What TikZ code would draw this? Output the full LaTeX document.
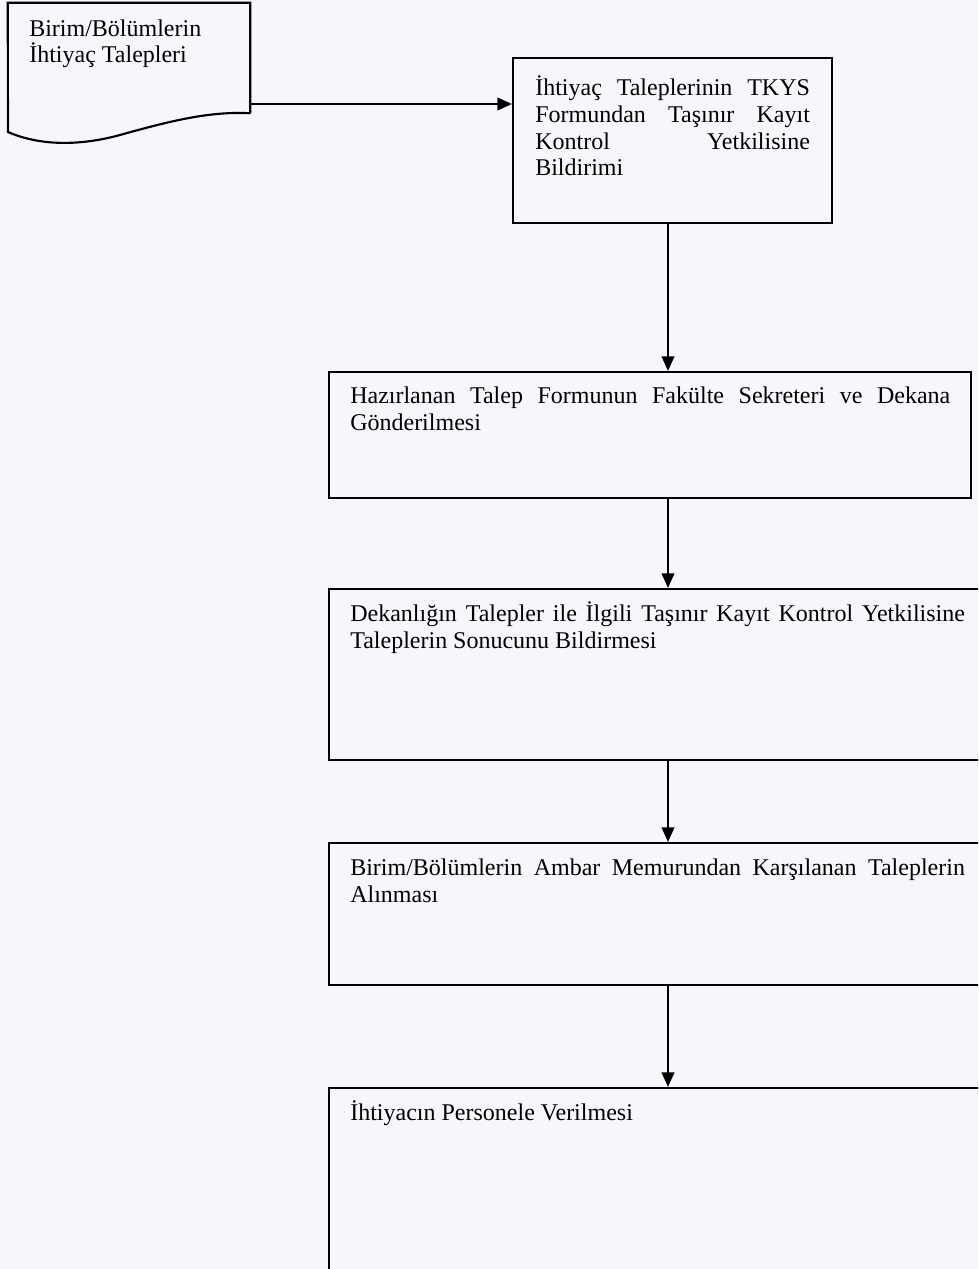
\documentclass[tikz,border=0pt]{standalone}
\usepackage{fontspec}
\setmainfont{Liberation Serif}
\usetikzlibrary{arrows.meta,fit}
\definecolor{paper}{RGB}{247,247,251}
\begin{document}
\begin{tikzpicture}[x=0.75pt,y=-0.75pt,
  outline/.style={draw=black,line width=1.6pt},
  stepbox/.style={outline,inner sep=0pt,fit=#1},
  % multi-line captions: the base anchor sits on the last line
  caption/.style={inner sep=0pt,anchor=base west,align=left,
    font=\fontsize{18}{20}\selectfont},
  arr/.style={draw=black,line width=1.5pt,-{Triangle[length=11pt,width=9.5pt]}}]

% page
\useasboundingbox (0,0) rectangle (978,1269);
\fill[paper] (0,0) rectangle (978,1269);
\clip (0,0) rectangle (978,1269);

% document symbol (wavy bottom)
\coordinate (dnw) at (8,3);
\coordinate (dse) at (250,113);
\node[inner sep=0pt,fit=(dnw)(dse)] (doc) {};
\draw[outline,line join=miter] (doc.south east) -- (doc.north east) -- (doc.north west) -- (8,132)
  .. controls (40,146) and (80,146) .. (120,135)
  .. controls (170,121) and (210,111) .. (doc.south east);
\node[caption] (tdoc) at (29,63) {Birim/Bölümlerin\\İhtiyaç Talepleri};

% process boxes
\coordinate (b2nw) at (513,58);   \coordinate (b2se) at (832,223);
\coordinate (b3nw) at (329,372);  \coordinate (b3se) at (971,498);
\coordinate (b4nw) at (329,589);  \coordinate (b4se) at (1000,760);
\coordinate (b5nw) at (329,843);  \coordinate (b5se) at (1000,985);
\coordinate (b6nw) at (329,1088); \coordinate (b6se) at (1000,1300);
\node[stepbox={(b2nw)(b2se)}] (b2) {};
\node[stepbox={(b3nw)(b3se)}] (b3) {};
\node[stepbox={(b4nw)(b4se)}] (b4) {};
\node[stepbox={(b5nw)(b5se)}] (b5) {};
\node[stepbox={(b6nw)(b6se)}] (b6) {};

\node[caption] (t2) at (535,176) {%
  \makebox[206pt][s]{İhtiyaç Taleplerinin TKYS}\\
  \makebox[206pt][s]{Formundan Taşınır Kayıt}\\
  \makebox[206pt][s]{Kontrol Yetkilisine}\\
  Bildirimi};
\node[caption] (t3) at (350,430) {%
  \makebox[450pt][s]{Hazırlanan Talep Formunun Fakülte Sekreteri ve Dekana}\\
  Gönderilmesi};
\node[caption] (t4) at (350,648) {%
  \makebox[461pt][s]{Dekanlığın Talepler ile İlgili Taşınır Kayıt Kontrol Yetkilisine}\\
  Taleplerin Sonucunu Bildirmesi};
\node[caption] (t5) at (350,902) {%
  \makebox[461pt][s]{Birim/Bölümlerin Ambar Memurundan Karşılanan Taleplerin}\\
  Alınması};
\node[caption] (t6) at (350,1120) {İhtiyacın Personele Verilmesi};

% connectors
\coordinate (a1) at (250,104);
\coordinate (ax) at (668,0);
\draw[arr] (a1) -- (a1 -| b2.west);
\draw[arr] (b2.south -| ax) -- (b3.north -| ax);
\draw[arr] (b3.south -| ax) -- (b4.north -| ax);
\draw[arr] (b4.south -| ax) -- (b5.north -| ax);
\draw[arr] (b5.south -| ax) -- (b6.north -| ax);
\end{tikzpicture}
\end{document}
